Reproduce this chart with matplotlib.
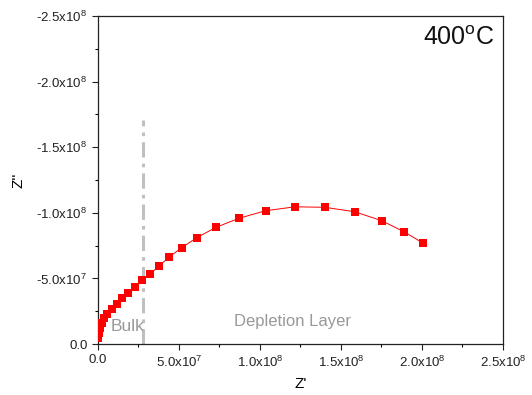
import numpy as np
import matplotlib.pyplot as plt
from matplotlib.ticker import MultipleLocator, FuncFormatter

plt.rcParams['font.family'] = ['Liberation Sans', 'DejaVu Sans']
plt.rcParams['mathtext.default'] = 'regular'

# Nyquist data at 400 C (Z' and -Z'')
z_real = [1.9e5, 6.2e5, 1.2e6, 2.3e6, 3.7e6, 5.7e6, 8.5e6, 1.15e7, 1.5e7, 1.87e7,
          2.28e7, 2.7e7, 3.21e7, 3.77e7, 4.38e7, 5.17e7, 6.09e7, 7.28e7, 8.7e7,
          1.035e8, 1.216e8, 1.401e8, 1.586e8, 1.751e8, 1.889e8, 2.008e8]
z_imag = [-4.3e6, -8.2e6, -1.19e7, -1.58e7, -1.96e7, -2.26e7, -2.64e7, -3.05e7,
          -3.48e7, -3.91e7, -4.37e7, -4.88e7, -5.31e7, -5.95e7, -6.61e7, -7.34e7,
          -8.1e7, -8.89e7, -9.58e7, -1.016e8, -1.046e8, -1.042e8, -1.008e8,
          -9.4e7, -8.56e7, -7.68e7]

boundary_x = 2.78e7
boundary_y = [0, -1.71e8]


def sci(v, pos):
    if v == 0:
        return "0.0"
    exp = int(np.floor(np.log10(abs(v))))
    mant = v / 10 ** exp
    return "%.1fx10$^{%d}$" % (mant, exp)


fig = plt.figure(figsize=(5.32, 3.95), dpi=100)
ax = fig.add_axes([0.184, 0.129, 0.7615, 0.8305])

ax.plot(z_real, z_imag, color='red', lw=0.7, marker='s', ms=5.5,
        markeredgewidth=0, zorder=3)
ax.plot([boundary_x, boundary_x], boundary_y, color='#c0c0c0', lw=2.2,
        linestyle=(0, (5, 2, 1.2, 2)), zorder=2)

ax.set_xlim(0, 2.5e8)
ax.set_ylim(0, -2.5e8)

ax.xaxis.set_major_locator(MultipleLocator(5e7))
ax.xaxis.set_minor_locator(MultipleLocator(2.5e7))
ax.yaxis.set_major_locator(MultipleLocator(5e7))
ax.yaxis.set_minor_locator(MultipleLocator(2.5e7))
ax.xaxis.set_major_formatter(FuncFormatter(sci))
ax.yaxis.set_major_formatter(FuncFormatter(sci))

ax.tick_params(which='major', direction='out', length=4, width=0.8,
               labelsize=9.5, colors='#222222', labelcolor='#222222')
ax.tick_params(which='minor', direction='out', length=2.5, width=0.8)
ax.tick_params(top=False, right=False, which='both')
for s in ax.spines.values():
    s.set_linewidth(0.9)
    s.set_color('#222222')

ax.set_xlabel("Z'", fontsize=11, labelpad=5)
ax.set_ylabel("Z''", fontsize=11, labelpad=8)

ax.text(0.978, 0.912, "400$^{o}$C", transform=ax.transAxes, ha='right',
        va='baseline', fontsize=18, color='#111111')
ax.text(8e6, -1.37e7, "Bulk", color='#999999', fontsize=12.5, va='center')
ax.text(8.4e7, -1.75e7, "Depletion Layer", color='#999999', fontsize=12,
        va='center')

fig.savefig("out.png", dpi=100)
